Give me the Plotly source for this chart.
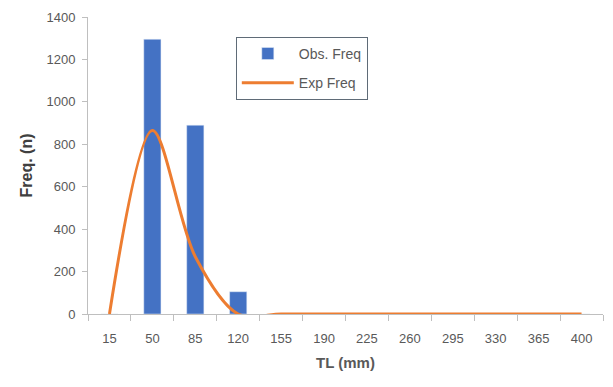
import plotly.graph_objects as go

categories = ["15", "50", "85", "120", "155", "190", "225", "260", "295", "330", "365", "400"]
obs_freq = [0, 1295, 890, 105, 0, 0, 0, 0, 0, 0, 0, 0]
exp_freq = [0, 865, 270, 0, 0, 0, 0, 0, 0, 0, 0, 0]

fig = go.Figure()
fig.add_trace(go.Bar(x=categories, y=obs_freq, name="Obs. Freq", marker_color="#4472C4",
                     legendgroup="a"))
fig.add_trace(go.Scatter(x=categories, y=exp_freq, name="Exp Freq", mode="lines",
                         legendgroup="b",
                         line=dict(color="#ED7D31", width=3, shape="spline", smoothing=0.9)))

# page body has an 8px margin, so the figure is sized to fit the 613x387 window
fig.update_layout(
    width=605, height=379,
    margin=dict(l=80, r=10, t=9, b=73),
    paper_bgcolor="white", plot_bgcolor="white",
    bargap=0.6,
    font=dict(family="Liberation Sans, Arial, sans-serif", color="#595959", size=13),
    legend=dict(x=0.287, y=0.933, xanchor="left", yanchor="top",
                bordercolor="#5F6B77", borderwidth=1, bgcolor="white",
                font=dict(size=14, color="#595959"), tracegroupgap=8,
                itemwidth=52),
    showlegend=True,
)
fig.update_xaxes(
    type="category", showline=True, linecolor="#BFBFBF", linewidth=1,
    ticks="outside", tickson="boundaries", ticklen=6, tickcolor="#BFBFBF",
    showgrid=False, tickfont=dict(size=13, color="#595959"), ticklabelstandoff=12,
    automargin=False,
    title=dict(text="<b>TL (mm)</b>", font=dict(size=15, color="#595959"), standoff=12),
)
fig.update_yaxes(
    range=[0, 1400], dtick=200, showline=True, linecolor="#BFBFBF", linewidth=1,
    ticks="outside", ticklen=5, tickcolor="#BFBFBF", showgrid=False, zeroline=False,
    tickfont=dict(size=13, color="#595959"), automargin=False, ticklabelstandoff=4,
    title=dict(text="<b>Freq. (n)</b>", font=dict(size=16, color="#404040"), standoff=9),
)
fig.write_html("out.html")
